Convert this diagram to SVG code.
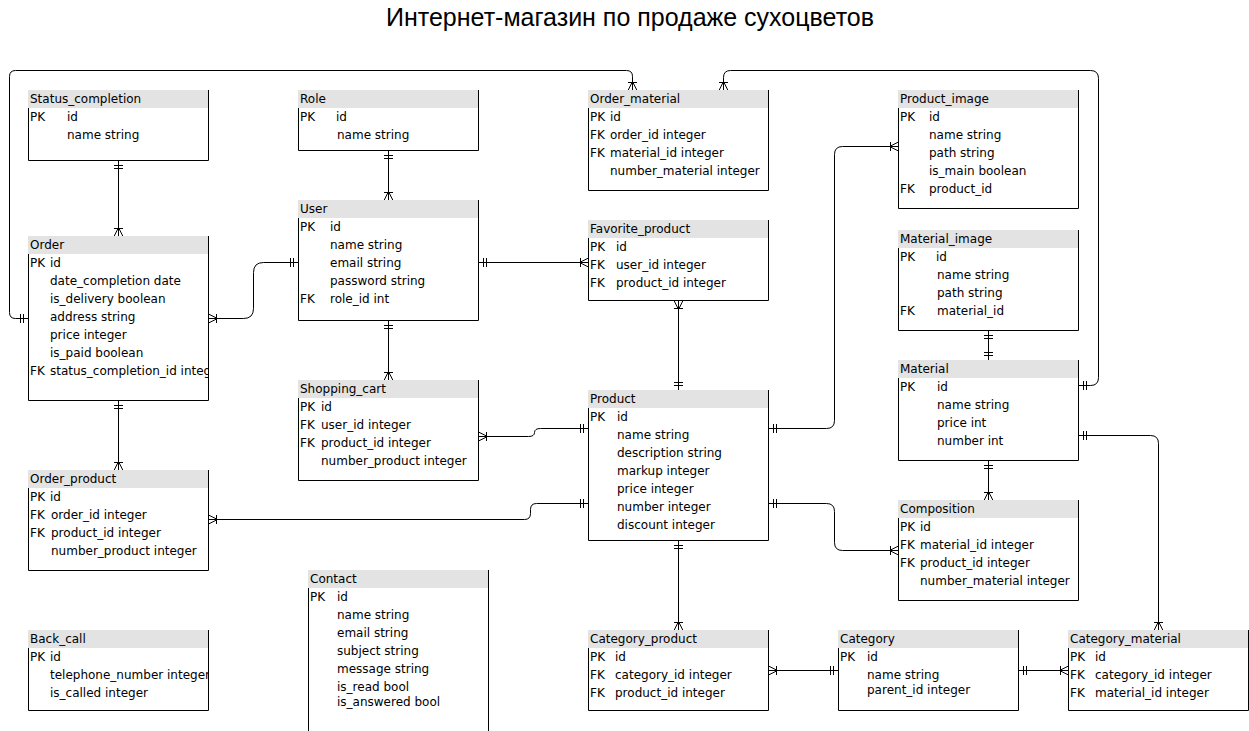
<svg xmlns="http://www.w3.org/2000/svg" width="1249" height="731" viewBox="0 0 1249 731">
<style>
.t{font-family:"DejaVu Sans",Verdana,sans-serif;font-size:12px;fill:#000}
.title{font-family:"Liberation Sans",Arial,sans-serif;font-size:25px;fill:#000}
.hd{fill:#e3e3e3}
.bd{fill:none;stroke:#000;stroke-width:1}
.c{fill:none;stroke:#000;stroke-width:1;marker-start:url(#one);marker-end:url(#many)}
.oo{marker-end:url(#one)}
</style>
<defs>
<marker id="one" viewBox="-12 -6 14 12" refX="0" refY="0" markerWidth="14" markerHeight="12" orient="auto-start-reverse" markerUnits="userSpaceOnUse" overflow="visible">
<path d="M-5,-4.5V4.5M-8,-4.5V4.5" fill="none" stroke="#000" stroke-width="1"/>
</marker>
<marker id="many" viewBox="-12 -6 14 12" refX="0" refY="0" markerWidth="14" markerHeight="12" orient="auto-start-reverse" markerUnits="userSpaceOnUse" overflow="visible">
<path d="M-9,0L0,-4.5M-9,0L0,4.5M-8,-4.5V4.5" fill="none" stroke="#000" stroke-width="1"/>
</marker>
<clipPath id="clipOrder"><rect x="28" y="236" width="180" height="164"/></clipPath>
<clipPath id="clipBack"><rect x="28" y="630" width="180" height="80"/></clipPath>
</defs>
<rect width="1249" height="731" fill="#fff"/>
<text class="title" x="630" y="26" text-anchor="middle">Интернет-магазин по продаже сухоцветов</text>

<g id="connectors" transform="translate(0.5,0.5)">
<path class="c" d="M118,160V236"/>
<path class="c" d="M28,318H15Q9,318 9,312V76Q9,70 15,70H626Q632,70 632,76V90"/>
<path class="c" d="M298,262H263Q253,262 253,272V308Q253,318 243,318H208"/>
<path class="c" d="M388,150V200"/>
<path class="c" d="M478,262H588"/>
<path class="c" d="M388,320V380"/>
<path class="c" d="M588,428H540Q534,428 534,432Q534,436 528,436H478"/>
<path class="c" d="M678,390V300"/>
<path class="c" d="M768,428H826Q834,428 834,420V154Q834,146 842,146H898"/>
<path class="c" d="M588,503H536Q530,503 530,509V513Q530,519 524,519H208"/>
<path class="c" d="M768,503H826Q834,503 834,511V542Q834,550 842,550H898"/>
<path class="c" d="M118,400V470"/>
<path class="c" d="M1078,385H1090Q1098,385 1098,377V78Q1098,70 1090,70H730Q723,70 723,77V90"/>
<path class="c" d="M1078,435H1150Q1158,435 1158,443V630"/>
<path class="c oo" d="M988,330V360"/>
<path class="c" d="M988,460V500"/>
<path class="c" d="M678,540V630"/>
<path class="c" d="M838,670H768"/>
<path class="c" d="M1018,670H1068"/>
</g>

<g id="status_completion">
<rect class="hd" x="28" y="90" width="180" height="18"/>
<path class="bd" d="M208.5,90V160.5H28.5V108"/>
<text class="t" x="30" y="103">Status_completion</text>
<text class="t" x="30" y="121">PK</text><text class="t" x="67" y="121">id</text>
<text class="t" x="67" y="139">name string</text>
</g>

<g id="role">
<rect class="hd" x="298" y="90" width="180" height="18"/>
<path class="bd" d="M478.5,90V150.5H298.5V108"/>
<text class="t" x="300" y="103">Role</text>
<text class="t" x="300" y="121">PK</text><text class="t" x="336" y="121">id</text>
<text class="t" x="337" y="139">name string</text>
</g>

<g id="order_material">
<rect class="hd" x="588" y="90" width="180" height="18"/>
<path class="bd" d="M768.5,90V190.5H588.5V108"/>
<text class="t" x="590" y="103">Order_material</text>
<text class="t" x="590" y="121">PK</text><text class="t" x="610" y="121">id</text>
<text class="t" x="590" y="139">FK</text><text class="t" x="610" y="139">order_id integer</text>
<text class="t" x="590" y="157">FK</text><text class="t" x="610" y="157">material_id integer</text>
<text class="t" x="610" y="175">number_material integer</text>
</g>

<g id="product_image">
<rect class="hd" x="898" y="90" width="180" height="18"/>
<path class="bd" d="M1078.5,90V208.5H898.5V108"/>
<text class="t" x="900" y="103">Product_image</text>
<text class="t" x="900" y="121">PK</text><text class="t" x="929" y="121">id</text>
<text class="t" x="929" y="139">name string</text>
<text class="t" x="929" y="157">path string</text>
<text class="t" x="929" y="175">is_main boolean</text>
<text class="t" x="900" y="193">FK</text><text class="t" x="929" y="193">product_id</text>
</g>

<g id="user">
<rect class="hd" x="298" y="200" width="180" height="18"/>
<path class="bd" d="M478.5,200V320.5H298.5V218"/>
<text class="t" x="300" y="213">User</text>
<text class="t" x="300" y="231">PK</text><text class="t" x="330" y="231">id</text>
<text class="t" x="330" y="249">name string</text>
<text class="t" x="330" y="267">email string</text>
<text class="t" x="330" y="285">password string</text>
<text class="t" x="300" y="303">FK</text><text class="t" x="330" y="303">role_id int</text>
</g>

<g id="favorite_product">
<rect class="hd" x="588" y="220" width="180" height="18"/>
<path class="bd" d="M768.5,220V300.5H588.5V238"/>
<text class="t" x="590" y="233">Favorite_product</text>
<text class="t" x="590" y="251">PK</text><text class="t" x="616" y="251">id</text>
<text class="t" x="590" y="269">FK</text><text class="t" x="616" y="269">user_id integer</text>
<text class="t" x="590" y="287">FK</text><text class="t" x="616" y="287">product_id integer</text>
</g>

<g id="material_image">
<rect class="hd" x="898" y="230" width="180" height="18"/>
<path class="bd" d="M1078.5,230V330.5H898.5V248"/>
<text class="t" x="900" y="243">Material_image</text>
<text class="t" x="900" y="261">PK</text><text class="t" x="936" y="261">id</text>
<text class="t" x="937" y="279">name string</text>
<text class="t" x="937" y="297">path string</text>
<text class="t" x="900" y="315">FK</text><text class="t" x="937" y="315">material_id</text>
</g>

<g id="order">
<rect class="hd" x="28" y="236" width="180" height="18"/>
<path class="bd" d="M208.5,236V400.5H28.5V254"/>
<g clip-path="url(#clipOrder)">
<text class="t" x="30" y="249">Order</text>
<text class="t" x="30" y="267">PK</text><text class="t" x="50" y="267">id</text>
<text class="t" x="50" y="285">date_completion date</text>
<text class="t" x="50" y="303">is_delivery boolean</text>
<text class="t" x="50" y="321">address string</text>
<text class="t" x="50" y="339">price integer</text>
<text class="t" x="50" y="357">is_paid boolean</text>
<text class="t" x="30" y="375">FK</text><text class="t" x="50" y="375">status_completion_id integer</text>
</g>
</g>

<g id="material">
<rect class="hd" x="898" y="360" width="180" height="18"/>
<path class="bd" d="M1078.5,360V460.5H898.5V378"/>
<text class="t" x="900" y="373">Material</text>
<text class="t" x="900" y="391">PK</text><text class="t" x="937" y="391">id</text>
<text class="t" x="937" y="409">name string</text>
<text class="t" x="937" y="427">price int</text>
<text class="t" x="937" y="445">number int</text>
</g>

<g id="shopping_cart">
<rect class="hd" x="298" y="380" width="180" height="18"/>
<path class="bd" d="M478.5,380V480.5H298.5V398"/>
<text class="t" x="300" y="393">Shopping_cart</text>
<text class="t" x="300" y="411">PK</text><text class="t" x="321" y="411">id</text>
<text class="t" x="300" y="429">FK</text><text class="t" x="321" y="429">user_id integer</text>
<text class="t" x="300" y="447">FK</text><text class="t" x="321" y="447">product_id integer</text>
<text class="t" x="321" y="465">number_product integer</text>
</g>

<g id="product">
<rect class="hd" x="588" y="390" width="180" height="18"/>
<path class="bd" d="M768.5,390V540.5H588.5V408"/>
<text class="t" x="590" y="403">Product</text>
<text class="t" x="590" y="421">PK</text><text class="t" x="617" y="421">id</text>
<text class="t" x="617" y="439">name string</text>
<text class="t" x="617" y="457">description string</text>
<text class="t" x="617" y="475">markup integer</text>
<text class="t" x="617" y="493">price integer</text>
<text class="t" x="617" y="511">number integer</text>
<text class="t" x="617" y="529">discount integer</text>
</g>

<g id="order_product">
<rect class="hd" x="28" y="470" width="180" height="18"/>
<path class="bd" d="M208.5,470V570.5H28.5V488"/>
<text class="t" x="30" y="483">Order_product</text>
<text class="t" x="30" y="501">PK</text><text class="t" x="50" y="501">id</text>
<text class="t" x="30" y="519">FK</text><text class="t" x="51" y="519">order_id integer</text>
<text class="t" x="30" y="537">FK</text><text class="t" x="51" y="537">product_id integer</text>
<text class="t" x="51" y="555">number_product integer</text>
</g>

<g id="composition">
<rect class="hd" x="898" y="500" width="180" height="18"/>
<path class="bd" d="M1078.5,500V600.5H898.5V518"/>
<text class="t" x="900" y="513">Composition</text>
<text class="t" x="900" y="531">PK</text><text class="t" x="920" y="531">id</text>
<text class="t" x="900" y="549">FK</text><text class="t" x="920" y="549">material_id integer</text>
<text class="t" x="900" y="567">FK</text><text class="t" x="920" y="567">product_id integer</text>
<text class="t" x="920" y="585">number_material integer</text>
</g>

<g id="contact">
<rect class="hd" x="308" y="570" width="180" height="18"/>
<path class="bd" d="M488.5,570V735H308.5V588"/>
<text class="t" x="310" y="583">Contact</text>
<text class="t" x="310" y="601">PK</text><text class="t" x="337" y="601">id</text>
<text class="t" x="337" y="619">name string</text>
<text class="t" x="337" y="637">email string</text>
<text class="t" x="337" y="655">subject string</text>
<text class="t" x="337" y="673">message string</text>
<text class="t" x="337" y="691">is_read bool</text>
<text class="t" x="337" y="706">is_answered bool</text>
</g>

<g id="back_call">
<rect class="hd" x="28" y="630" width="180" height="18"/>
<path class="bd" d="M208.5,630V710.5H28.5V648"/>
<g clip-path="url(#clipBack)">
<text class="t" x="30" y="643">Back_call</text>
<text class="t" x="30" y="661">PK</text><text class="t" x="50" y="661">id</text>
<text class="t" x="50" y="679">telephone_number integer</text>
<text class="t" x="50" y="697">is_called integer</text>
</g>
</g>

<g id="category_product">
<rect class="hd" x="588" y="630" width="180" height="18"/>
<path class="bd" d="M768.5,630V710.5H588.5V648"/>
<text class="t" x="590" y="643">Category_product</text>
<text class="t" x="590" y="661">PK</text><text class="t" x="615" y="661">id</text>
<text class="t" x="590" y="679">FK</text><text class="t" x="615" y="679">category_id integer</text>
<text class="t" x="590" y="697">FK</text><text class="t" x="615" y="697">product_id integer</text>
</g>

<g id="category">
<rect class="hd" x="838" y="630" width="180" height="18"/>
<path class="bd" d="M1018.5,630V710.5H838.5V648"/>
<text class="t" x="840" y="643">Category</text>
<text class="t" x="840" y="661">PK</text><text class="t" x="867" y="661">id</text>
<text class="t" x="867" y="679">name string</text>
<text class="t" x="867" y="694">parent_id integer</text>
</g>

<g id="category_material">
<rect class="hd" x="1068" y="630" width="180" height="18"/>
<path class="bd" d="M1248.5,630V710.5H1068.5V648"/>
<text class="t" x="1070" y="643">Category_material</text>
<text class="t" x="1070" y="661">PK</text><text class="t" x="1095" y="661">id</text>
<text class="t" x="1070" y="679">FK</text><text class="t" x="1095" y="679">category_id integer</text>
<text class="t" x="1070" y="697">FK</text><text class="t" x="1095" y="697">material_id integer</text>
</g>
</svg>
